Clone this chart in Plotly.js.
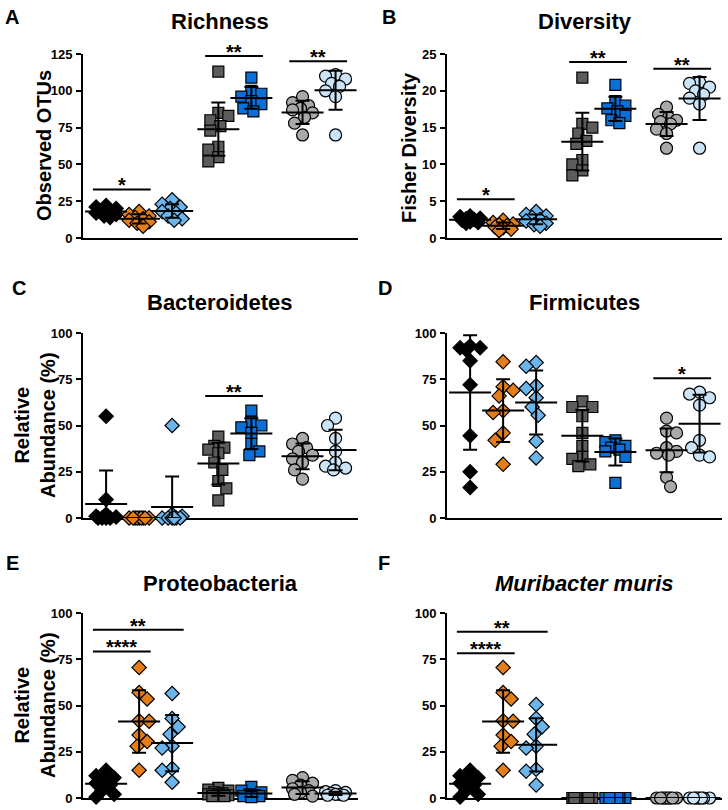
<!DOCTYPE html>
<html><head><meta charset="utf-8">
<script src="https://cdn.plot.ly/plotly-3.0.1.min.js"></script>
<style>body{margin:0;background:#fff}#chart{width:728px;height:810px}</style>
</head><body><div id="chart"></div>
<script>
// ---------- DATA ----------
const groupNames = ['Group 1', 'Group 2', 'Group 3', 'Group 4', 'Group 5', 'Group 6', 'Group 7'];

const richness = [
  [22, 21, 20, 19, 18, 17, 16, 15, 14],
  [18, 16, 15, 14, 13, 12, 11, 10, 8],
  [26, 23, 21, 20, 18, 17, 15, 13, 12],
  [113, 85, 83, 80, 76, 73, 62, 60, 55, 52],
  [109, 100, 98, 96, 93, 91, 88, 86],
  [96, 92, 90, 88, 87, 85, 82, 78, 70],
  [111, 110, 108, 105, 103, 100, 96, 70]
];
const diversity = [
  [3.0, 2.9, 2.7, 2.6, 2.5, 2.4, 2.2, 2.1, 2.0],
  [2.4, 2.1, 1.9, 1.8, 1.7, 1.5, 1.4, 1.2, 1.0],
  [3.6, 3.2, 3.0, 2.8, 2.5, 2.3, 2.0, 1.8, 1.6],
  [21.8, 15.5, 15.0, 14.2, 13.2, 12.8, 10.6, 10.0, 9.2, 8.5],
  [20.8, 18.6, 18.0, 17.6, 17.2, 16.6, 16.0, 15.6],
  [17.8, 16.8, 16.4, 16.0, 15.8, 15.5, 14.8, 14.2, 12.2],
  [21.2, 21.0, 20.5, 20.0, 19.5, 19.0, 18.2, 12.2]
];
const bacteroidetes = [
  [55, 10, 2, 1, 0.5, 0, 0, 0, 0],
  [0, 0, 0, 0, 0, 0, 0, 0, 0],
  [50, 2, 1, 0, 0, 0, 0, 0, 0],
  [44, 39, 38, 37, 35, 30, 26, 20, 16, 9.5],
  [58, 52, 50, 49, 46, 40, 36, 34],
  [43, 40, 38, 36, 34, 32, 30, 26, 21],
  [54, 50, 43, 36, 30, 28, 27, 26]
];
const firmicutes = [
  [93, 92, 92, 91, 85, 72, 44.5, 25, 16.5],
  [84.5, 71, 69, 66, 58, 57, 46, 42, 29],
  [84, 82, 71.5, 70, 65, 60, 55.5, 41.5, 32.5],
  [63, 60, 60, 55, 46, 39, 33, 32, 29, 28],
  [42, 41, 39, 38, 37, 36, 33, 19],
  [54, 47, 46, 38, 36, 35, 34, 22, 17],
  [68, 67, 65, 61, 42, 38, 34, 33]
];
const proteobacteria = [
  [15, 12, 11, 10, 8, 7, 4, 2, 0.5],
  [70.5, 57, 53.5, 41.8, 41.5, 34, 30.5, 28, 15],
  [56.5, 43, 38.5, 34.5, 28, 27, 16, 15, 8.5],
  [5.5, 4.5, 4, 3, 2.5, 2, 2, 1.5, 1, 1],
  [6, 4, 3, 2, 1.5, 1, 1, 0.5],
  [11, 9.5, 8, 7, 5, 4, 3, 2, 1],
  [4, 3.5, 3, 2.5, 2, 2, 1.5, 1.5]
];
const muribacter = [
  [15, 12, 11, 10, 8, 7, 4, 2, 0.5],
  [70.5, 57, 53.5, 41.8, 41.5, 34, 30.5, 28, 15],
  [50.5, 43, 38.5, 34.5, 28, 27, 15.5, 14.5, 7],
  [0, 0, 0, 0, 0, 0, 0, 0, 0, 0],
  [0, 0, 0, 0, 0, 0, 0, 0],
  [0, 0, 0, 0, 0, 0, 0, 0, 0],
  [0, 0, 0, 0, 0, 0, 0, 0]
];

// significance: [group a, group b, bar value, label]
const richnessSig = [[0, 1, 33, '*'], [3, 4, 123.6, '**'], [5, 6, 120, '**']];
const diversitySig = [[0, 1, 5.25, '*'], [3, 4, 23.9, '**'], [5, 6, 23.0, '**']];
const bacteroidetesSig = [[3, 4, 66, '**']];
const firmicutesSig = [[5, 6, 75.5, '*']];
const proteobacteriaSig = [[0, 1, 79.2, '****'], [0, 2, 91, '**']];
const muribacterSig = [[0, 1, 78.3, '****'], [0, 2, 89.9, '**']];

const panelTitles = ['Richness', 'Diversity', 'Bacteroidetes', 'Firmicutes', 'Proteobacteria', '<i>Muribacter muris</i>'];
const panelLetters = ['A', 'B', 'C', 'D', 'E', 'F'];
const yTitles = ['Observed OTUs', 'Fisher Diversity', 'Relative<br>Abundance (%)', '', 'Relative<br>Abundance (%)', ''];
const yMax = [125, 25, 100, 100, 100, 100];
const yDtick = [25, 5, 25, 25, 25, 25];

// ---------- STYLE ----------
const FONT = '"Liberation Sans", Arial, Helvetica, sans-serif';
const W = 728, H = 810;
const groupX = [1, 2, 3, 4.4, 5.4, 6.95, 7.95];
const groupSymbols = ['diamond', 'diamond', 'diamond', 'square', 'square', 'circle', 'circle'];
const groupColors = ['#000000', '#E37E1A', '#6BB5EC', '#5C5C5C', '#0B6FD8', '#A9A9A9', '#CBE4F7'];
const groupSizes = [11, 11, 11, 11, 11, 12, 12];
const XR = [0.3, 8.63];
const colX = [[83, 358], [447, 722]];
const rowY = [[54, 238], [333, 518], [613, 798]];
const letterPos = [[12, 17], [389, 17], [19, 288], [385, 288], [12, 563], [384, 563]];
const titleY = [22, 22, 303, 303, 583, 583];
const yTitlePos = [[44, 146], [409, 148], [35, 425], null, [35, 705], null];

const datasets = [richness, diversity, bacteroidetes, firmicutes, proteobacteria, muribacter];
const sigs = [richnessSig, diversitySig, bacteroidetesSig, firmicutesSig, proteobacteriaSig, muribacterSig];

function mean(a) { return a.reduce((s, v) => s + v, 0) / a.length; }
function sd(a) { const m = mean(a); if (a.length < 2) return 0; return Math.sqrt(a.reduce((s, v) => s + (v - m) * (v - m), 0) / (a.length - 1)); }

// deterministic swarm layout (pixel offsets)
function swarm(vals, pxPerY) {
  const S = 10, maxOff = 10;
  const order = vals.map((v, i) => i).sort((a, b) => vals[b] - vals[a]);
  const placed = []; const off = new Array(vals.length).fill(0);
  order.forEach((i, n) => {
    const y = vals[i] * pxPerY;
    const sign = n % 2 === 0 ? 1 : -1;
    const cands = [0];
    for (let k = 2; k <= maxOff; k += 2) { cands.push(sign * k, -sign * k); }
    let best = 0, bestScore = -1;
    for (const c of cands) {
      let md = Infinity;
      for (const p of placed) { const d = Math.hypot(p.x - c, p.y - y); if (d < md) md = d; }
      if (md >= S) { best = c; break; }
      if (md > bestScore) { bestScore = md; best = c; }
    }
    placed.push({ x: best, y: y }); off[i] = best;
  });
  return off;
}

const traces = [];
const layout = {
  width: W, height: H, margin: { l: 0, r: 0, t: 0, b: 0 },
  paper_bgcolor: '#ffffff', plot_bgcolor: 'rgba(0,0,0,0)', showlegend: false,
  font: { family: FONT, color: '#000' },
  shapes: [], annotations: []
};

datasets.forEach((data, p) => {
  const col = p % 2, row = Math.floor(p / 2);
  const sfx = p === 0 ? '' : String(p + 1);
  const xa = 'x' + sfx, ya = 'y' + sfx;
  const [x0, x1] = colX[col], [y0, y1] = rowY[row];
  const pxPerX = (x1 - x0) / (XR[1] - XR[0]);
  const pxPerY = (y1 - y0) / yMax[p];

  layout['xaxis' + sfx] = {
    domain: [x0 / W, x1 / W], range: XR, anchor: ya,
    showline: true, linewidth: 2, linecolor: '#000', showgrid: false, zeroline: false,
    ticks: '', showticklabels: false, fixedrange: true, layer: 'below traces'
  };
  layout['yaxis' + sfx] = {
    domain: [1 - y1 / H, 1 - y0 / H], range: [0, yMax[p]], anchor: xa,
    showline: true, linewidth: 2, linecolor: '#000', showgrid: false, zeroline: false,
    ticks: 'outside', ticklen: 5, tickwidth: 2, tickcolor: '#000', dtick: yDtick[p], tick0: 0,
    tickfont: { family: FONT, size: 13, weight: 'bold', color: '#000' }, ticklabelstandoff: 1,
    fixedrange: true, layer: 'below traces'
  };

  data.forEach((vals, g) => {
    const off = swarm(vals, pxPerY);
    traces.push({
      type: 'scatter', mode: 'markers', xaxis: xa, yaxis: ya, name: groupNames[g],
      x: vals.map((v, i) => groupX[g] + off[i] / pxPerX), y: vals,
      cliponaxis: false, hoverinfo: 'y+name',
      marker: { symbol: groupSymbols[g], size: groupSizes[g], color: groupColors[g], line: { color: '#000', width: 1.2 } }
    });
  });

  const means = data.map(mean), sds = data.map(sd);
  traces.push({
    type: 'scatter', mode: 'markers', xaxis: xa, yaxis: ya, name: 'mean ± SD',
    x: groupX, y: means, cliponaxis: true, hoverinfo: 'y',
    marker: { symbol: 'line-ew', size: 30, color: '#000', line: { color: '#000', width: 2 } },
    error_y: { type: 'data', symmetric: false, array: sds, arrayminus: sds.map((s, i) => Math.min(s, means[i])), color: '#000', thickness: 2, width: 7 }
  });

  sigs[p].forEach(([a, b, yv, lab]) => {
    layout.shapes.push({ type: 'line', xref: xa, yref: ya, x0: groupX[a] - 0.4, x1: groupX[b] + 0.35, y0: yv, y1: yv, line: { color: '#000', width: 2 } });
    layout.annotations.push({ xref: xa, yref: ya, x: (groupX[a] - 0.4 + groupX[b] + 0.35) / 2, y: yv, text: lab, showarrow: false, yanchor: 'bottom', yshift: -9, font: { family: FONT, size: 20, weight: 'bold', color: '#000' } });
  });

  layout.annotations.push({ xref: 'paper', yref: 'paper', x: (x0 + x1) / 2 / W, y: 1 - titleY[p] / H, text: panelTitles[p], showarrow: false, xanchor: 'center', yanchor: 'middle', font: { family: FONT, size: 22, weight: 'bold', color: '#000' } });
  layout.annotations.push({ xref: 'paper', yref: 'paper', x: letterPos[p][0] / W, y: 1 - letterPos[p][1] / H, text: panelLetters[p], showarrow: false, xanchor: 'center', yanchor: 'middle', font: { family: FONT, size: 20, weight: 'bold', color: '#000' } });
  if (yTitlePos[p]) {
    layout.annotations.push({ xref: 'paper', yref: 'paper', x: yTitlePos[p][0] / W, y: 1 - yTitlePos[p][1] / H, text: yTitles[p], showarrow: false, textangle: -90, xanchor: 'center', yanchor: 'middle', font: { family: FONT, size: 20, weight: 'bold', color: '#000' } });
  }
});

Plotly.newPlot('chart', traces, layout, { displayModeBar: false, staticPlot: true });
</script></body></html>
